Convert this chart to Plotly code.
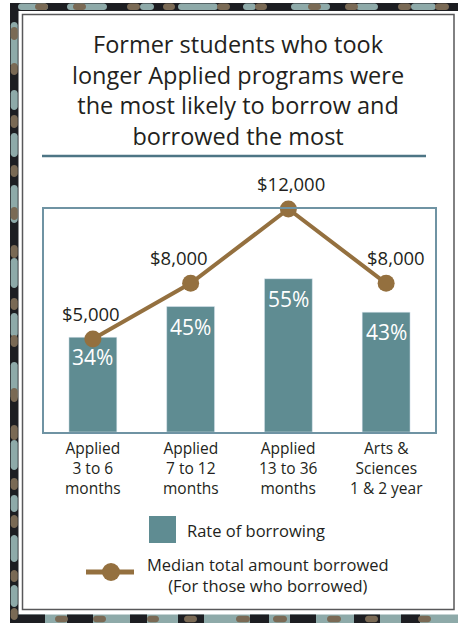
import plotly.graph_objects as go

# ---- data ----
categories = ["Applied 3 to 6 months", "Applied 7 to 12 months",
              "Applied 13 to 36 months", "Arts & Sciences 1 & 2 year"]
category_labels = ["Applied<br>3 to 6<br>months",
                   "Applied<br>7 to 12<br>months",
                   "Applied<br>13 to 36<br>months",
                   "Arts &<br>Sciences<br>1 & 2 year"]
borrow_rate = [34, 45, 55, 43]            # percent
median_amount = [5000, 8000, 12000, 8000]  # dollars

title_text = ("Former students who took<br>longer Applied programs were<br>"
              "the most likely to borrow and<br>borrowed the most")

# ---- styling ----
W, H = 458, 623
FONT = "Open Sans"
TEXT = "#231f20"
BAR = "#5f8c92"
LINE = "#94703f"
FRAME = "#6f93a3"
RULE = "#4d7585"
DARK = "#1d1e22"
PILL_TEAL = "#8eaaa9"
PILL_BROWN = "#7a6a55"
# horizontal nudges for the dollar labels so they sit clear of the line
amount_label_dx = [-2, -12, 3, 10]


def px(x):
    return x / W


def py(y):
    return 1 - y / H


fig = go.Figure()

fig.add_trace(go.Bar(
    x=categories, y=borrow_rate, marker_color=BAR, width=0.49,
    name="Rate of borrowing", hoverinfo="skip"))

fig.add_trace(go.Scatter(
    x=categories, y=median_amount, yaxis="y2", mode="lines+markers",
    line=dict(color=LINE, width=4), marker=dict(color=LINE, size=17),
    cliponaxis=False, name="Median total amount borrowed", hoverinfo="skip"))

annotations = []
shapes = []

# value labels
for c, r in zip(categories, borrow_rate):
    annotations.append(dict(x=c, y=r, xref="x", yref="y", text=f"{r}%",
                            showarrow=False, yanchor="middle", yshift=-20,
                            font=dict(family=FONT, size=21, color="white")))
for c, a, dx in zip(categories, median_amount, amount_label_dx):
    annotations.append(dict(x=c, y=a, xref="x", yref="y2", text=f"${a:,}",
                            showarrow=False, yanchor="middle", yshift=26, xshift=dx,
                            font=dict(family=FONT, size=18.5, color=TEXT)))

# category labels under the frame
for c, t in zip(categories, category_labels):
    annotations.append(dict(x=c, y=py(435), xref="x", yref="paper",
                            text=t, showarrow=False, yanchor="top",
                            font=dict(family=FONT, size=15.5, color=TEXT)))

# title
annotations.append(dict(x=px(238), y=py(90), xref="paper", yref="paper",
                        text=title_text, showarrow=False,
                        xanchor="center", yanchor="middle", align="center",
                        font=dict(family=FONT, size=23.5, color=TEXT)))

# rule under the title
shapes.append(dict(type="line", xref="paper", yref="paper",
                   x0=px(42), x1=px(426), y0=py(156), y1=py(156),
                   line=dict(color=RULE, width=2.5)))

# legend
shapes.append(dict(type="rect", xref="paper", yref="paper",
                   x0=px(149), x1=px(176), y0=py(516), y1=py(543),
                   fillcolor=BAR, line=dict(width=0)))
annotations.append(dict(x=px(185), y=py(530.5), xref="paper", yref="paper",
                        text="Rate of borrowing", showarrow=False,
                        xanchor="left", yanchor="middle",
                        font=dict(family=FONT, size=16.5, color=TEXT)))
shapes.append(dict(type="line", xref="paper", yref="paper",
                   x0=px(86), x1=px(134), y0=py(572), y1=py(572),
                   line=dict(color=LINE, width=5)))
shapes.append(dict(type="circle", xref="paper", yref="paper",
                   x0=px(102), x1=px(120), y0=py(563), y1=py(581),
                   fillcolor=LINE, line=dict(width=0)))
annotations.append(dict(x=px(267.5), y=py(574.5), xref="paper", yref="paper",
                        text="Median total amount borrowed<br>(For those who borrowed)",
                        showarrow=False, xanchor="center", yanchor="middle",
                        align="center",
                        font=dict(family=FONT, size=16.5, color=TEXT)))


# ---- decorative border ----
def hpill(a, b, yc, t, color):
    r = t / 2
    k = 4 / 3 * r
    pts = (f"M {px(a + r)},{py(yc - r)} L {px(b - r)},{py(yc - r)} "
           f"C {px(b - r + k)},{py(yc - r)} {px(b - r + k)},{py(yc + r)} {px(b - r)},{py(yc + r)} "
           f"L {px(a + r)},{py(yc + r)} "
           f"C {px(a + r - k)},{py(yc + r)} {px(a + r - k)},{py(yc - r)} {px(a + r)},{py(yc - r)} Z")
    return dict(type="path", xref="paper", yref="paper", path=pts,
                fillcolor=color, line=dict(width=0), layer="above")


def vpill(a, b, xc, t, color):
    r = t / 2
    k = 4 / 3 * r
    pts = (f"M {px(xc - r)},{py(a + r)} L {px(xc - r)},{py(b - r)} "
           f"C {px(xc - r)},{py(b - r + k)} {px(xc + r)},{py(b - r + k)} {px(xc + r)},{py(b - r)} "
           f"L {px(xc + r)},{py(a + r)} "
           f"C {px(xc + r)},{py(a + r - k)} {px(xc - r)},{py(a + r - k)} {px(xc - r)},{py(a + r)} Z")
    return dict(type="path", xref="paper", yref="paper", path=pts,
                fillcolor=color, line=dict(width=0), layer="above")


def rect(x0, x1, y0, y1, color):
    return dict(type="rect", xref="paper", yref="paper",
                x0=px(x0), x1=px(x1), y0=py(y0), y1=py(y1),
                fillcolor=color, line=dict(width=0))


top_teal = [(18, 48), (67, 107), (140, 154), (178, 218), (243, 256),
            (291, 330), (356, 378), (411, 436)]
top_brown = [(35, 48), (73, 86), (127, 140), (163, 175), (217, 230),
             (255, 267), (308, 321), (345, 358), (398, 411), (435, 449)]
left_teal = [(22, 68), (90, 110), (133, 157), (185, 223), (258, 288),
             (313, 337), (362, 400), (440, 470), (495, 512), (535, 562), (585, 607)]
left_brown = [(27, 40), (63, 75), (115, 128), (165, 177), (207, 220),
              (245, 258), (298, 310), (335, 347), (388, 402), (425, 440),
              (478, 490), (515, 528), (570, 582), (608, 620)]
bottom_dark = [(18, 45), (67, 93), (130, 147), (178, 204), (250, 269),
               (290, 316), (354, 380), (401, 420)]
bottom_brown = [(55, 68), (93, 106), (147, 159), (184, 197), (236, 250),
                (273, 287), (327, 341), (365, 378), (418, 431)]

shapes.append(rect(10, 458, 3, 11, DARK))
shapes.append(rect(10, 18.5, 3, 623, DARK))
shapes.append(rect(18.5, 458, 614.5, 623, PILL_TEAL))
for a, b in bottom_dark:
    shapes.append(rect(a, b, 614.5, 623, DARK))
for a, b in top_teal:
    shapes.append(hpill(a, b, 6.8, 6.6, PILL_TEAL))
for a, b in top_brown:
    shapes.append(hpill(a, b, 6.8, 6.6, PILL_BROWN))
for a, b in left_teal:
    shapes.append(vpill(a, b, 14.2, 7, PILL_TEAL))
for a, b in left_brown:
    shapes.append(vpill(a, b, 14.2, 7, PILL_BROWN))
for a, b in bottom_brown:
    shapes.append(hpill(a, b, 619, 6.6, PILL_BROWN))

# panel outline
shapes.append(dict(type="rect", xref="paper", yref="paper",
                   x0=px(22.5), x1=px(454), y0=py(14.5), y1=py(609.5),
                   line=dict(color="#58585a", width=1.5)))

fig.update_layout(
    width=W, height=H, margin=dict(l=0, r=0, t=0, b=0),
    paper_bgcolor="white", plot_bgcolor="white", showlegend=False,
    bargap=0.5,
    xaxis=dict(domain=[px(44), px(435)], type="category", range=[-0.5, 3.5],
               showticklabels=False, ticks="", showgrid=False, zeroline=False,
               showline=True, mirror=True, linecolor=FRAME, linewidth=1.5,
               fixedrange=True),
    yaxis=dict(domain=[py(432), py(209)], range=[0, 80], showticklabels=False,
               ticks="", showgrid=False, zeroline=False,
               showline=True, mirror=True, linecolor=FRAME, linewidth=1.5,
               fixedrange=True),
    yaxis2=dict(overlaying="y", range=[0, 12000], visible=False, fixedrange=True),
    annotations=annotations, shapes=shapes,
)

fig.write_html("out.html")
